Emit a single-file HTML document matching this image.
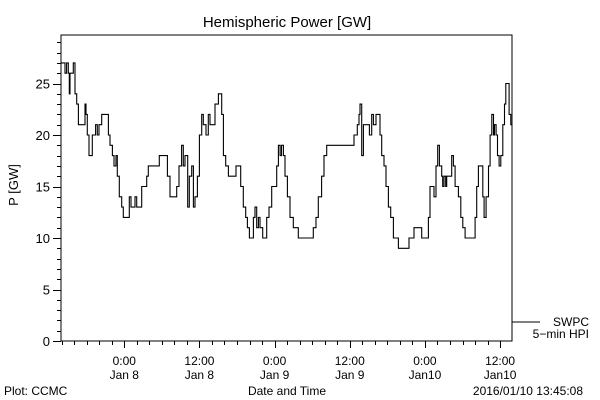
<!DOCTYPE html>
<html><head><meta charset="utf-8"><style>
html,body{margin:0;padding:0;background:#fff;}
svg{display:block;font-family:"Liberation Sans",sans-serif;}
</style></head><body>
<svg id="chart" width="600" height="400" viewBox="0 0 600 400" xmlns="http://www.w3.org/2000/svg">
<rect x="0" y="0" width="600" height="400" fill="#fff"/>
<text x="287" y="27" font-size="15" text-anchor="middle">Hemispheric Power [GW]</text>
<text x="0" y="0" font-size="13" text-anchor="middle" transform="translate(18,185) rotate(-90)">P [GW]</text>
<text x="287" y="395" font-size="12" text-anchor="middle">Date and Time</text>
<text x="4" y="395" font-size="12">Plot: CCMC</text>
<text x="583" y="395" font-size="12" text-anchor="end">2016/01/10 13:45:08</text>
<g id="axes"></g>
<g id="series"></g>
<g>
<line x1="512" y1="322" x2="540" y2="322" stroke="#000" stroke-width="1"/>
<text x="589" y="326" font-size="12" text-anchor="end">SWPC</text>
<text x="589" y="338" font-size="12" text-anchor="end">5−min HPI</text>
</g>
</svg>
<script>
// hours since plot start (Jan 7 ~13:50)
const hours = [0,0.64,0.9,1.17,1.33,1.44,1.7,1.97,2.24,2.5,2.77,3.46,3.83,3.99,4.2,4.47,4.79,5.0,5.32,5.53,5.8,6.07,6.49,7.18,7.56,7.82,8.2,8.46,8.78,8.99,9.31,9.69,9.95,10.48,10.91,11.18,11.55,11.81,12.08,12.51,12.88,13.41,13.68,13.94,14.48,15.27,15.7,16.6,16.98,17.4,18.2,18.47,18.84,19.26,19.53,19.8,20.06,20.22,20.49,20.86,21.13,21.39,21.77,22.09,22.46,22.72,23.15,23.52,23.79,24.16,24.59,24.96,25.12,25.39,25.65,25.92,26.3,26.72,27.78,27.94,28.37,28.69,29.11,29.48,29.75,30.07,30.28,30.71,30.97,31.24,31.51,31.77,32.2,32.57,32.84,33.21,33.63,34.17,34.43,34.7,34.97,35.2,35.5,35.76,36.14,36.56,37.09,37.52,37.89,40.02,40.28,40.71,41.08,41.61,41.99,42.42,42.84,46.57,46.78,47.1,47.31,47.58,47.74,48.0,48.27,48.7,49.07,49.23,49.6,49.87,50.29,50.67,50.93,51.2,51.57,51.89,52.26,52.63,53.06,53.59,53.86,55.29,55.56,56.25,56.36,57.32,57.58,58.38,58.65,58.91,59.18,59.55,59.87,60.14,60.41,60.78,60.94,61.15,61.42,61.58,62.11,62.38,62.65,62.91,63.44,63.82,64.14,64.51,65.84,66.11,66.37,66.64,67.07,67.33,67.55,67.87,68.24,68.5,68.77,69.04,69.2,69.46,69.68,69.94,70.21,70.53,70.8,71.01,71.33,71.54,71.81,72.07];
const power = [27,26,27,26,24,26,26,27,24,23,21,21,23,22,20,18,18,20,20,21,20,21,22,22,20,19,18,17,18,16,14,13,12,12,14,13,13,14,13,13,15,15,16,17,17,17,18,18,16,14,14,15,17,19,17,18,18,13,16,17,13,14,16,20,22,21,20,22,21,21,23,23,24,24,22,18,17,16,16,17,17,15,13,12,11,10,10,12,13,11,12,11,10,10,12,13,15,15,17,19,18,19,18,16,14,12,11,11,10,10,11,12,14,16,18,19,19,19,20,20,21,22,23,18,21,21,21,20,22,21,22,22,20,18,17,15,13,12,10,10,9,9,10,10,11,11,10,10,12,15,15,14,17,19,17,16,15,16,15,16,16,18,17,15,14,12,11,10,10,12,15,17,17,14,12,14,17,20,22,20,21,20,18,17,18,21,23,25,25,22,21,21];
const yTickLabels = ["0","5","10","15","20","25"];
const xTickLabels = [["0:00","Jan 8"],["12:00","Jan 8"],["0:00","Jan 9"],["12:00","Jan 9"],["0:00","Jan10"],["12:00","Jan10"]];

const NS = "http://www.w3.org/2000/svg";
const L = 61, R = 512, T = 35, B = 341;
const pxPerHour = 6.264, firstMajorHour = 10.1, hourSpan = 72;
const yMax = (B - T) / 10.3;
function xs(h){ return L + h * pxPerHour; }
function ys(v){ return B - v * (B - T) / yMax; }
function mk(tag, attrs, parent){
  const e = document.createElementNS(NS, tag);
  for (const k in attrs) e.setAttribute(k, attrs[k]);
  parent.appendChild(e);
  return e;
}
const axes = document.getElementById('axes');
const frame = mk('rect', {x:L, y:T, width:R-L, height:B-T, fill:'none', stroke:'#000', 'stroke-width':1, 'shape-rendering':'crispEdges'}, axes);


// y ticks
for (let v = 0; v <= Math.floor(yMax); v++){
  const major = v % 5 === 0;
  const y = Math.round(ys(v)) + 0.5;
  const t = mk('line', {x1:L-(major?8:4), x2:L, y1:y, y2:y, stroke:'#000', 'stroke-width':1}, axes);
  
  
}
yTickLabels.forEach((lab, i) => {
  const v = Number(lab);
  const t = mk('text', {x:L-11, y:ys(v)+5, 'font-size':13, 'text-anchor':'end'}, axes);
  t.textContent = lab;
  
  
});
// x ticks every 2h, major every 12h
for (let h = firstMajorHour - 10; h <= hourSpan; h += 2){
  const rel = Math.round(h - firstMajorHour);
  const major = ((rel % 12) + 12) % 12 === 0;
  const x = Math.round(xs(h)) + 0.5;
  if (x < L || x > R) continue;
  const t = mk('line', {x1:x, x2:x, y1:B, y2:B+(major?7:4), stroke:'#000', 'stroke-width':1}, axes);
  
  
}
xTickLabels.forEach((pair, i) => {
  const x = xs(firstMajorHour + 12 * i);
  const t1 = mk('text', {x:x, y:365, 'font-size':12, 'text-anchor':'middle'}, axes);
  t1.textContent = pair[0];
  
  
  const t2 = mk('text', {x:x, y:379, 'font-size':12, 'text-anchor':'middle'}, axes);
  t2.textContent = pair[1];
  
  
});
// stepped series
let d = '';
for (let i = 0; i < hours.length; i++){
  const x = Math.min(xs(hours[i]), R), y = ys(power[i]);
  if (i === 0) d += 'M' + x.toFixed(1) + ' ' + y.toFixed(1);
  else d += ' H' + x.toFixed(1) + ' V' + y.toFixed(1);
}
const path = mk('path', {d:d, fill:'none', stroke:'#000', 'stroke-width':1.1}, document.getElementById('series'));


</script>
</body></html>
